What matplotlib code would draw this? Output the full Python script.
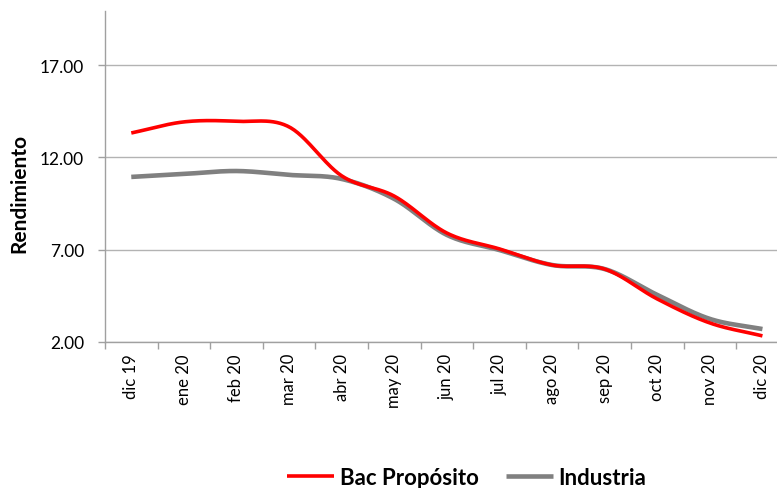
import numpy as np
import matplotlib.pyplot as plt

meses = ['dic 19', 'ene 20', 'feb 20', 'mar 20', 'abr 20', 'may 20', 'jun 20',
         'jul 20', 'ago 20', 'sep 20', 'oct 20', 'nov 20', 'dic 20']
bac = [13.32, 13.92, 13.95, 13.65, 11.00, 9.90, 7.90, 7.04, 6.17, 5.95, 4.33, 3.03, 2.33]
industria = [10.94, 11.10, 11.26, 11.05, 10.83, 9.75, 7.80, 6.98, 6.17, 5.95, 4.55, 3.25, 2.70]

plt.rcParams['font.family'] = ['Lato', 'DejaVu Sans']


def suavizar(y, n=30):
    # curva Catmull-Rom que pasa por cada punto, como la linea suavizada de Excel
    y = np.asarray(y, dtype=float)
    p = np.concatenate([[2 * y[0] - y[1]], y, [2 * y[-1] - y[-2]]])
    xs, ys = [], []
    t = np.linspace(0, 1, n, endpoint=False)
    for i in range(len(y) - 1):
        p0, p1, p2, p3 = p[i], p[i + 1], p[i + 2], p[i + 3]
        seg = 0.5 * ((2 * p1) + (-p0 + p2) * t + (2 * p0 - 5 * p1 + 4 * p2 - p3) * t ** 2
                     + (-p0 + 3 * p1 - 3 * p2 + p3) * t ** 3)
        xs.extend(i + t)
        ys.extend(seg)
    xs.append(len(y) - 1)
    ys.append(y[-1])
    return np.array(xs), np.array(ys)


fig = plt.figure(figsize=(7.77, 4.89), dpi=100)
ax = fig.add_axes([0.1351, 0.2986, 0.880, 0.677])

xi, yi = suavizar(industria)
ax.plot(xi, yi, color='#808080', lw=3.3, label='Industria', solid_capstyle='butt', zorder=3)
xb, yb = suavizar(bac)
ax.plot(xb, yb, color='#ff0000', lw=2.6, label='Bac Propósito', solid_capstyle='butt', zorder=4)

ax.set_xlim(-0.5, len(meses) - 0.5)
ax.set_ylim(2, 19.93)
ax.set_yticks([2, 7, 12, 17])
ax.set_yticklabels(['2.00', '7.00', '12.00', '17.00'], fontsize=12.5)
ax.set_xticks(range(len(meses)))
ax.set_xticklabels(meses, rotation=90, fontsize=12)
ax.set_xticks(np.arange(-0.5, len(meses), 1), minor=True)
ax.tick_params(axis='x', which='major', length=0, pad=8)
ax.tick_params(axis='x', which='minor', length=5, color='#a0a0a0', width=1)
ax.tick_params(axis='y', length=5, color='#a0a0a0', width=1, pad=10)

ax.grid(axis='y', color='#b3b3b3', lw=1)
ax.set_axisbelow(True)
for s in ['top', 'right']:
    ax.spines[s].set_visible(False)
for s in ['left', 'bottom']:
    ax.spines[s].set_color('#a0a0a0')
    ax.spines[s].set_linewidth(1)

ax.set_ylabel('Rendimiento', fontsize=15, fontweight='bold')
ax.yaxis.set_label_coords(-0.11, 0.453)

h, l = ax.get_legend_handles_labels()
fig.legend(h[::-1], l[::-1], loc='center', bbox_to_anchor=(0.601, 0.022), ncol=2, frameon=False,
           prop={'weight': 'bold', 'size': 16}, handlelength=2.1, handletextpad=0.25,
           columnspacing=1.25)

fig.savefig('out.png', dpi=100)
